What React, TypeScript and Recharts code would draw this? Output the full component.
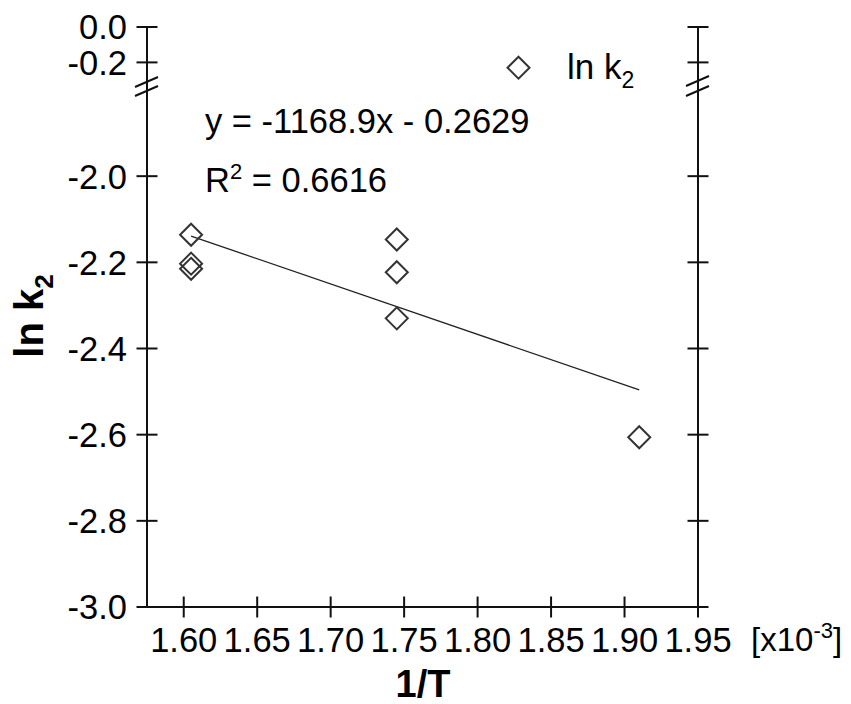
import React from 'react';
import { ScatterChart, Scatter, XAxis, YAxis } from 'recharts';

// ---- data ----
const invT = [1.605, 1.605, 1.605, 1.745, 1.745, 1.745, 1.91];
const lnK2 = [-2.136, -2.203, -2.215, -2.147, -2.223, -2.33, -2.606];
const trendX = [1.605, 1.91];
const trendY = [-2.139, -2.496];
const xTicks = [1.6, 1.65, 1.7, 1.75, 1.8, 1.85, 1.9, 1.95];
const yTicksLower = [-3.0, -2.8, -2.6, -2.4, -2.2, -2.0];
const yTicksUpper = [0.0, -0.2];
const xDomain: [number, number] = [1.575, 1.95];
const yDomainLower: [number, number] = [-3.0, -1.8];
const yDomainUpper: [number, number] = [-0.356, 0];

const points = invT.map((x, i) => ({ x, y: lnK2[i] }));
const trend = trendX.map((x, i) => ({ x, y: trendY[i] }));

const FONT = '"Liberation Sans", Arial, Helvetica, sans-serif';
const INK = '#111';
const TICK_FS = 34.5;

const LeftTick = (props: any) => {
  const { x, y, payload } = props;
  return (
    <g>
      <line x1={x - 10.5} x2={x + 10.5} y1={y} y2={y} stroke={INK} strokeWidth={2} />
      <text x={x - 20} y={y} dy="0.36em" textAnchor="end" fontSize={TICK_FS} fill="#000" fontFamily={FONT}>
        {Number(payload.value).toFixed(1)}
      </text>
    </g>
  );
};

const RightTick = (props: any) => {
  const { x, y } = props;
  return <line x1={x - 10.5} x2={x + 10.5} y1={y} y2={y} stroke={INK} strokeWidth={2} />;
};

const BottomTick = (props: any) => {
  const { x, y, payload } = props;
  return (
    <g>
      <line x1={x} x2={x} y1={y - 10.5} y2={y + 10.5} stroke={INK} strokeWidth={2} />
      <text x={x} y={y + 45} textAnchor="middle" fontSize={TICK_FS} fill="#000" fontFamily={FONT}>
        {Number(payload.value).toFixed(2)}
      </text>
    </g>
  );
};

const Diamond = (props: any) => {
  const { cx, cy } = props;
  if (cx == null || cy == null) return <g />;
  const r = 11;
  return (
    <path
      d={`M${cx},${cy - r} L${cx + r},${cy} L${cx},${cy + r} L${cx - r},${cy} Z`}
      fill="none"
      stroke="#333"
      strokeWidth={2}
    />
  );
};

const NoShape = () => <g />;

export default function App() {
  return (
    <div style={{ position: 'absolute', left: 0, top: 0, width: 851, height: 704, background: '#fff', fontFamily: FONT }}>
      {/* upper segment of the broken axis */}
      <div style={{ position: 'absolute', left: 0, top: 0 }}>
        <ScatterChart width={851} height={90} margin={{ top: 27, right: 0, bottom: 0, left: 0 }}>
          <XAxis type="number" dataKey="x" xAxisId="t" orientation="top" domain={xDomain} allowDataOverflow height={0}
            tick={false} tickLine={false} axisLine={{ stroke: INK, strokeWidth: 2 }} />
          <YAxis type="number" dataKey="y" yAxisId="l" domain={yDomainUpper} allowDataOverflow ticks={yTicksUpper}
            width={147} tickSize={0} tickMargin={0} tick={<LeftTick />} tickLine={false}
            axisLine={{ stroke: INK, strokeWidth: 2 }} interval={0} />
          <YAxis type="number" dataKey="y" yAxisId="r" orientation="right" domain={yDomainUpper} allowDataOverflow
            ticks={yTicksUpper} width={153} tickSize={0} tickMargin={0} tick={<RightTick />} tickLine={false}
            axisLine={{ stroke: INK, strokeWidth: 2 }} interval={0} />
          <Scatter xAxisId="t" yAxisId="l" data={[]} isAnimationActive={false} />
        </ScatterChart>
      </div>
      {/* lower segment */}
      <div style={{ position: 'absolute', left: 0, top: 0 }}>
        <ScatterChart width={851} height={704} margin={{ top: 90, right: 0, bottom: 0, left: 0 }}>
          <XAxis type="number" dataKey="x" domain={xDomain} allowDataOverflow ticks={xTicks} height={97}
            tickSize={0} tickMargin={0} tick={<BottomTick />} tickLine={false} interval={0}
            axisLine={{ stroke: INK, strokeWidth: 2 }} />
          <YAxis type="number" dataKey="y" yAxisId="l" domain={yDomainLower} allowDataOverflow ticks={yTicksLower}
            width={147} tickSize={0} tickMargin={0} tick={<LeftTick />} tickLine={false}
            axisLine={{ stroke: INK, strokeWidth: 2 }} interval={0} />
          <YAxis type="number" dataKey="y" yAxisId="r" orientation="right" domain={yDomainLower} allowDataOverflow
            ticks={yTicksLower} width={153} tickSize={0} tickMargin={0} tick={<RightTick />} tickLine={false}
            axisLine={{ stroke: INK, strokeWidth: 2 }} interval={0} />
          <Scatter yAxisId="l" data={trend} line={{ stroke: '#222', strokeWidth: 1.3 }} shape={<NoShape />}
            isAnimationActive={false} />
          <Scatter yAxisId="l" data={points} shape={<Diamond />} isAnimationActive={false} />
        </ScatterChart>
      </div>
      {/* annotations */}
      <svg width={851} height={704} style={{ position: 'absolute', left: 0, top: 0, pointerEvents: 'none' }}>
        {/* axis break marks */}
        <g stroke={INK} strokeWidth={2}>
          <line x1={135} y1={87} x2={158} y2={77} />
          <line x1={135} y1={96} x2={158} y2={86} />
          <line x1={686} y1={86} x2={709} y2={76} />
          <line x1={686} y1={96} x2={709} y2={86} />
        </g>
        {/* legend */}
        <path d="M518.5,56.7 L529.5,67.7 L518.5,78.7 L507.5,67.7 Z" fill="none" stroke="#333" strokeWidth={2} />
        <text x={567} y={79} fontSize={35} fontFamily={FONT} fill="#000">
          ln k<tspan dy={9} fontSize={23}>2</tspan>
        </text>
        {/* regression annotation */}
        <text x={205} y={133} fontSize={34.5} fontFamily={FONT} fill="#000">y = -1168.9x - 0.2629</text>
        <text x={205} y={192} fontSize={34.5} fontFamily={FONT} fill="#000">
          R<tspan dy={-13} fontSize={22}>2</tspan><tspan dy={13}> = 0.6616</tspan>
        </text>
        {/* axis titles */}
        <text x={43} y={316} transform="rotate(-90 43 316)" textAnchor="middle" fontSize={40} fontWeight="bold"
          fontFamily={FONT} fill="#000">
          ln k<tspan dy={10} fontSize={26}>2</tspan>
        </text>
        <text x={423} y={697} textAnchor="middle" fontSize={38} fontWeight="bold" fontFamily={FONT} fill="#000">1/T</text>
        <text x={751} y={651} fontSize={33} fontFamily={FONT} fill="#000">
          [x10<tspan dy={-13} fontSize={22}>-3</tspan><tspan dy={13}>]</tspan>
        </text>
      </svg>
    </div>
  );
}
